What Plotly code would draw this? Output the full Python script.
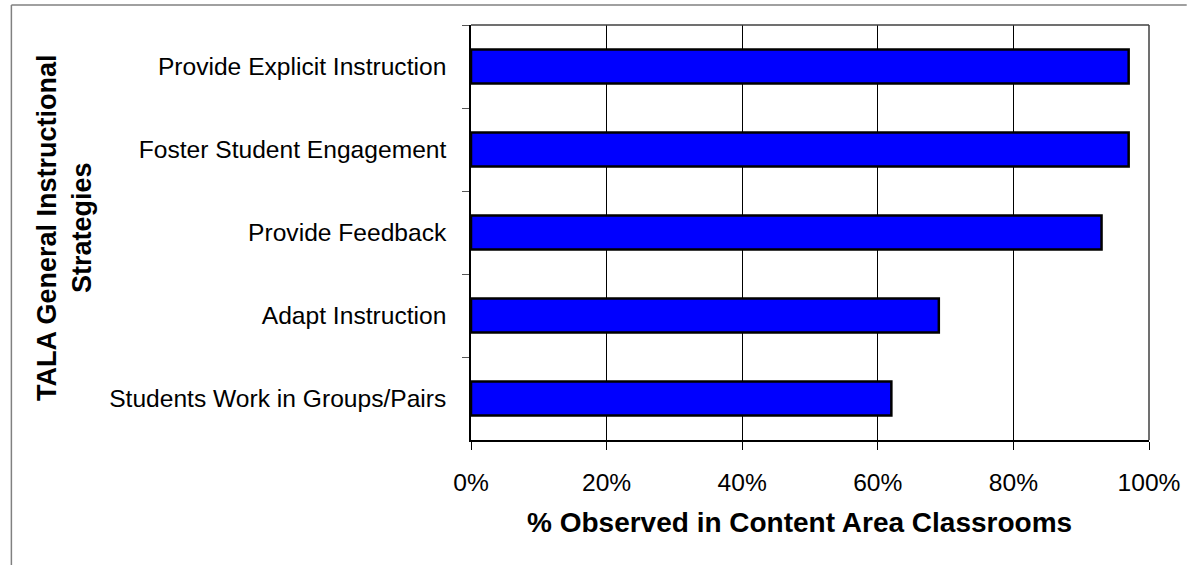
import plotly.graph_objects as go

strategies = [
    "Provide Explicit Instruction",
    "Foster Student Engagement",
    "Provide Feedback",
    "Adapt Instruction",
    "Students Work in Groups/Pairs",
]
pct_observed = [0.97, 0.97, 0.93, 0.69, 0.62]
x_ticks = [0, 0.2, 0.4, 0.6, 0.8, 1.0]
x_tick_labels = ["0%", "20%", "40%", "60%", "80%", "100%"]

W, H = 1192, 565
L, R, T, B = 471, 1154, 25, 440

def px(x):
    return (x - L) / (R - L)

def py(y):
    return (B - y) / (B - T)

FONT = "Liberation Sans, Arial, sans-serif"

fig = go.Figure(
    go.Bar(
        x=pct_observed,
        y=strategies,
        orientation="h",
        width=0.41,
        marker=dict(color="#0000FF", line=dict(color="black", width=2.5)),
        hoverinfo="x+y",
    )
)

fig.update_layout(
    width=W,
    height=H,
    margin=dict(l=L, r=W - R, t=T, b=H - B, pad=0),
    paper_bgcolor="white",
    plot_bgcolor="white",
    showlegend=False,
    font=dict(family=FONT, size=24.6, color="black"),
    xaxis=dict(
        range=[0, 1],
        tickvals=x_ticks,
        ticktext=x_tick_labels,
        showgrid=True,
        gridcolor="black",
        gridwidth=1,
        ticks="outside",
        ticklen=8,
        tickcolor="black",
        showline=True,
        linecolor="black",
        linewidth=1.5,
        zeroline=False,
        ticklabelstandoff=12,
        tickfont=dict(size=24.6),
        fixedrange=True,
    ),
    yaxis=dict(
        categoryorder="array",
        categoryarray=strategies,
        autorange="reversed",
        ticks="outside",
        tickson="boundaries",
        ticklen=7,
        tickcolor="#555",
        showline=True,
        linecolor="black",
        linewidth=1.5,
        showgrid=False,
        ticklabelstandoff=18,
        tickfont=dict(size=24.6),
        fixedrange=True,
    ),
    shapes=[
        dict(type="line", xref="paper", yref="paper", x0=0, x1=1, y0=1, y1=1,
             line=dict(color="#404040", width=1.5)),
        dict(type="line", xref="paper", yref="paper", x0=1, x1=1, y0=0, y1=1,
             line=dict(color="#404040", width=1.5)),
        dict(type="line", xref="paper", yref="paper", x0=px(8), x1=px(1192), y0=py(5), y1=py(5),
             line=dict(color="#808080", width=1.5)),
        dict(type="line", xref="paper", yref="paper", x0=px(8), x1=px(8), y0=py(5), y1=py(566),
             line=dict(color="#808080", width=1.5)),
    ],
    annotations=[
        dict(
            text="<b>% Observed in Content Area Classrooms</b>",
            xref="paper", yref="paper", x=px(802), y=py(522),
            xanchor="center", yanchor="middle", showarrow=False,
            font=dict(size=28, family=FONT),
        ),
        dict(
            text="<b>TALA General Instructional<br>Strategies</b>",
            xref="paper", yref="paper", x=px(61), y=py(228),
            xanchor="center", yanchor="middle", showarrow=False,
            textangle=-90,
            font=dict(size=27, family=FONT),
        ),
    ],
)

fig.write_html(
    "out.html",
    config={"displayModeBar": False},
    post_script="document.body.style.margin='0';document.body.style.padding='0';",
)
